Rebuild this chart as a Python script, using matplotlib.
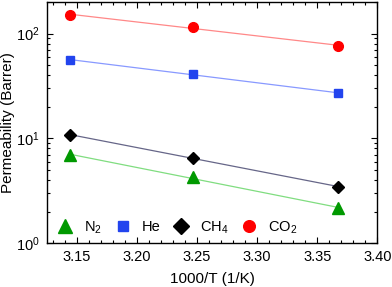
import numpy as np
import matplotlib
matplotlib.use('Agg')
import matplotlib.pyplot as plt

plt.rcParams['font.family'] = ['Liberation Sans', 'DejaVu Sans']
plt.rcParams['mathtext.fontset'] = 'custom'
plt.rcParams['mathtext.rm'] = 'Liberation Sans'

# 1000/T values (1/K)
inv_t = [3.144, 3.247, 3.367]

# permeabilities (Barrer)
n2 = [6.9, 4.3, 2.15]
he = [56, 41, 27]
ch4 = [10.8, 6.5, 3.45]
co2 = [150, 116, 76]

series = [
    ('N$_2$', n2, '^', '#009900', '#80dd80'),
    ('He', he, 's', '#2244ee', '#8899ff'),
    ('CH$_4$', ch4, 'D', 'black', '#666688'),
    ('CO$_2$', co2, 'o', '#ff0000', '#ff8888'),
]

fig = plt.figure(figsize=(3.92, 2.87), dpi=100)
ax = fig.add_axes([0.119, 0.153, 0.844, 0.84])

sizes = {'^': 8, 's': 6, 'D': 6.5, 'o': 7}
xs = np.array(inv_t)
for label, vals, mk, col, lcol in series:
    # straight fit of log10(P) against 1000/T
    k, b = np.polyfit(xs, np.log10(vals), 1)
    ax.plot(xs, 10 ** (k * xs + b), color=lcol, lw=0.9, zorder=2)
    ax.plot(xs, vals, mk, color=col, ms=sizes[mk], mec=col, label=label,
            ls='none', zorder=3)

ax.set_yscale('log')
ax.set_xlim(3.125, 3.40)
ax.set_ylim(1, 200)
ax.set_xticks([3.15, 3.20, 3.25, 3.30, 3.35, 3.40])
ax.set_xticklabels(['3.15', '3.20', '3.25', '3.30', '3.35', '3.40'])
ax.set_xticks(np.arange(3.13, 3.40, 0.01), minor=True)
ax.tick_params(which='both', direction='in', top=True, right=True, labelsize=10.5)
ax.tick_params(which='major', length=4, width=0.8, pad=5)
ax.tick_params(which='minor', length=2, width=0.8)
for s in ax.spines.values():
    s.set_linewidth(1.0)

ax.set_xlabel('1000/T (1/K)', fontsize=11, labelpad=6)
ax.set_ylabel('Permeability (Barrer)', fontsize=11, labelpad=1)

ax.legend(loc='lower left', ncol=4, frameon=False, fontsize=10.5,
          handlelength=1.0, handletextpad=0.8, columnspacing=0.9,
          markerscale=1.2, bbox_to_anchor=(-0.005, -0.025))

fig.savefig('out.png', dpi=100)
